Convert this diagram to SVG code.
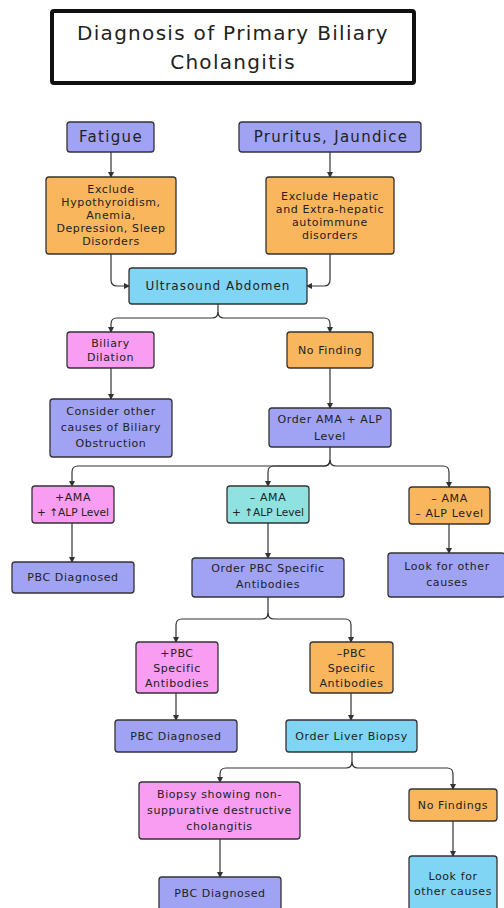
<svg xmlns="http://www.w3.org/2000/svg" width="504" height="908" viewBox="0 0 504 908">
<defs>
<marker id="arr" markerWidth="6" markerHeight="6" refX="5" refY="3" orient="auto" markerUnits="userSpaceOnUse">
<path d="M0,0 L6,3 L0,6 z" fill="#333"/>
</marker>
<style>
.n{stroke:#333;stroke-width:1.3}
.p{fill:#a0a3f4}.o{fill:#f9b65d}.k{fill:#f99df3}.b{fill:#7fd5f3}.t{fill:#8fe2df}
text{font-family:"DejaVu Sans","Noto Sans",sans-serif;fill:#222;text-anchor:middle;dominant-baseline:central;font-size:11px;letter-spacing:0.6px}
.md{font-size:12px;letter-spacing:1px}
.lg{font-size:15px;letter-spacing:1.3px}
.ti{font-size:20px;letter-spacing:1.3px}
.sm{font-size:10.5px;letter-spacing:0}
.c{fill:none;stroke:#333;stroke-width:1.2}
</style>
</defs>
<rect width="504" height="908" fill="#fff"/>
<g id="title">
<rect x="52" y="11" width="362" height="72" fill="#fff" stroke="#111" stroke-width="4" rx="2"/>
<text class="ti" x="233" y="33">Diagnosis of Primary Biliary</text>
<text class="ti" x="233" y="62">Cholangitis</text>
</g>
<g id="connectors">
<path class="c" d="M111,152 V177" marker-end="url(#arr)"/>
<path class="c" d="M330,152 V177" marker-end="url(#arr)"/>
<path class="c" d="M111,254 V280 Q111,286 117,286 H129" marker-end="url(#arr)"/>
<path class="c" d="M330,254 V280 Q330,286 324,286 H307" marker-end="url(#arr)"/>
<path class="c" d="M218,304 V312 Q218,318 212,318 H117 Q111,318 111,324 V332" marker-end="url(#arr)"/>
<path class="c" d="M218,312 Q218,318 224,318 H324 Q330,318 330,324 V332" marker-end="url(#arr)"/>
<path class="c" d="M111,368 V399" marker-end="url(#arr)"/>
<path class="c" d="M330,368 V408" marker-end="url(#arr)"/>
<path class="c" d="M330,447 V460 Q330,466 324,466 H78 Q72,466 72,472 V486" marker-end="url(#arr)"/>
<path class="c" d="M330,460 Q330,466 324,466 H274 Q268,466 268,472 V486" marker-end="url(#arr)"/>
<path class="c" d="M330,460 Q330,466 336,466 H443 Q449,466 449,472 V487" marker-end="url(#arr)"/>
<path class="c" d="M72,523 V562" marker-end="url(#arr)"/>
<path class="c" d="M268,523 V558" marker-end="url(#arr)"/>
<path class="c" d="M449,524 V553" marker-end="url(#arr)"/>
<path class="c" d="M268,597 V613 Q268,619 262,619 H182 Q176,619 176,625 V642" marker-end="url(#arr)"/>
<path class="c" d="M268,613 Q268,619 274,619 H345 Q351,619 351,625 V642" marker-end="url(#arr)"/>
<path class="c" d="M176,693 V720" marker-end="url(#arr)"/>
<path class="c" d="M351,693 V720" marker-end="url(#arr)"/>
<path class="c" d="M352,752 V762 Q352,768 346,768 H226 Q220,768 220,774 V782" marker-end="url(#arr)"/>
<path class="c" d="M352,762 Q352,768 358,768 H447 Q453,768 453,774 V789" marker-end="url(#arr)"/>
<path class="c" d="M220,839 V877" marker-end="url(#arr)"/>
<path class="c" d="M453,821 V856" marker-end="url(#arr)"/>
</g>
<g id="fatigue"><rect class="n p" x="67" y="122" width="87" height="30" rx="3"/><text class="lg" x="111" y="137">Fatigue</text></g>
<g id="pruritus"><rect class="n p" x="239" y="122" width="182" height="30" rx="3"/><text class="lg" x="331" y="137">Pruritus, Jaundice</text></g>
<g id="exclude1"><rect class="n o" x="46" y="177" width="130" height="77" rx="3"/>
<text x="111" y="189">Exclude</text><text x="111" y="202">Hypothyroidism,</text><text x="111" y="215">Anemia,</text><text x="111" y="228">Depression, Sleep</text><text x="111" y="241">Disorders</text></g>
<g id="exclude2"><rect class="n o" x="266" y="177" width="128" height="77" rx="3"/>
<text x="330" y="196">Exclude Hepatic</text><text x="330" y="209">and Extra-hepatic</text><text x="330" y="222">autoimmune</text><text x="330" y="235">disorders</text></g>
<g id="ultrasound"><rect class="n b" x="129" y="268" width="178" height="36" rx="3"/><text class="md" x="218" y="286">Ultrasound Abdomen</text></g>
<g id="biliary"><rect class="n k" x="67" y="332" width="87" height="36" rx="3"/><text x="110.5" y="343">Biliary</text><text x="110.5" y="357">Dilation</text></g>
<g id="nofinding"><rect class="n o" x="287" y="332" width="86" height="36" rx="3"/><text x="330" y="350">No Finding</text></g>
<g id="consider"><rect class="n p" x="50" y="399" width="122" height="58" rx="3"/>
<text x="111" y="411">Consider other</text><text x="111" y="427">causes of Biliary</text><text x="111" y="443">Obstruction</text></g>
<g id="orderama"><rect class="n p" x="269" y="408" width="122" height="39" rx="3"/><text x="330" y="419">Order AMA + ALP</text><text x="330" y="436">Level</text></g>
<g id="posama"><rect class="n k" x="32" y="486" width="82" height="37" rx="3"/><text x="73" y="497">+AMA</text><text class="sm" x="73" y="512" textLength="72" lengthAdjust="spacingAndGlyphs">+ ↑ALP Level</text></g>
<g id="negamahigh"><rect class="n t" x="227" y="486" width="82" height="37" rx="3"/><text x="268" y="497">– AMA</text><text class="sm" x="268" y="512" textLength="72" lengthAdjust="spacingAndGlyphs">+ ↑ALP Level</text></g>
<g id="negamanorm"><rect class="n o" x="409" y="487" width="81" height="37" rx="3"/><text x="449.5" y="498">– AMA</text><text x="449.5" y="513">– ALP Level</text></g>
<g id="pbc1"><rect class="n p" x="12" y="562" width="122" height="31" rx="3"/><text x="73" y="577">PBC Diagnosed</text></g>
<g id="orderpbc"><rect class="n p" x="192" y="558" width="152" height="39" rx="3"/><text x="268" y="568">Order PBC Specific</text><text x="268" y="584">Antibodies</text></g>
<g id="lookother1"><rect class="n p" x="388" y="553" width="117" height="44" rx="3"/><text x="447" y="566">Look for other</text><text x="447" y="582">causes</text></g>
<g id="pospbc"><rect class="n k" x="136" y="642" width="82" height="51" rx="3"/><text x="177" y="653">+PBC</text><text x="177" y="668">Specific</text><text x="177" y="683">Antibodies</text></g>
<g id="negpbc"><rect class="n o" x="310" y="642" width="83" height="51" rx="3"/><text x="351.5" y="653">–PBC</text><text x="351.5" y="668">Specific</text><text x="351.5" y="683">Antibodies</text></g>
<g id="pbc2"><rect class="n p" x="115" y="720" width="122" height="32" rx="3"/><text x="176" y="736">PBC Diagnosed</text></g>
<g id="biopsy"><rect class="n b" x="286" y="720" width="131" height="32" rx="3"/><text x="351.5" y="736">Order Liver Biopsy</text></g>
<g id="biopsyshow"><rect class="n k" x="139" y="782" width="161" height="57" rx="3"/>
<text x="219.5" y="794">Biopsy showing non-</text><text x="219.5" y="810">suppurative destructive</text><text x="219.5" y="826">cholangitis</text></g>
<g id="nofindings"><rect class="n o" x="409" y="789" width="88" height="32" rx="3"/><text x="453" y="805">No Findings</text></g>
<g id="pbc3"><rect class="n p" x="159" y="877" width="122" height="34" rx="3"/><text x="220" y="893">PBC Diagnosed</text></g>
<g id="lookother2"><rect class="n b" x="409" y="856" width="88" height="56" rx="3"/><text x="453" y="876">Look for</text><text x="453" y="891">other causes</text></g>
</svg>
